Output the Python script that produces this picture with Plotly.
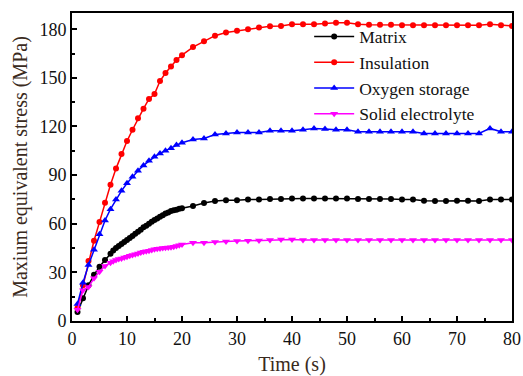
import plotly.graph_objects as go

# Sampling times (s)
t_main = [1, 2, 3, 4, 5, 6, 7, 8, 9, 10, 11, 12, 13, 14, 15, 16, 17, 18, 19, 20,
          22, 24, 26, 28, 30, 32, 34, 36, 38, 40, 42, 44, 46, 48, 50, 52, 54, 56, 58, 60,
          62, 64, 66, 68, 70, 72, 74, 76, 78, 80]
t_fine = [1, 2, 3, 4, 5, 6, 7, 7.5, 8, 8.5, 9, 9.5, 10, 10.5, 11, 11.5, 12, 12.5, 13, 13.5,
          14, 14.5, 15, 15.5, 16, 16.5, 17, 17.5, 18, 18.5, 19, 19.5, 20,
          22, 24, 26, 28, 30, 32, 34, 36, 38, 40, 42, 44, 46, 48, 50, 52, 54, 56, 58, 60,
          62, 64, 66, 68, 70, 72, 74, 76, 78, 80]

# Maximum equivalent stress (MPa)
matrix = [5.5, 14, 22, 28.5, 33.5, 37.6, 41.5, 43.5, 45, 46.2, 47.5, 48.8, 50, 51.2, 52.5, 53.8,
          55, 56.3, 57.8, 58.8, 60, 61.2, 62.3, 63.3, 64.3, 65.3, 66.3, 67, 67.8, 68.3, 68.6, 69.2, 69.6,
          71, 72.8, 74, 74.5, 74.5, 75, 75, 75.2, 75.3, 75.5, 75.5, 75.5, 75.5, 75.5, 75.5, 75.3, 75.3,
          75.2, 75.2, 75, 75, 74.2, 74, 74, 74.2, 74.2, 74, 75, 75, 75]
insulation = [8, 22, 37, 49.5, 61, 73, 84, 94, 103, 111, 118, 125, 131, 137, 140, 148, 153, 157, 161, 164,
              169, 172.5, 176, 178, 179, 180, 181, 181.8, 182, 183, 183, 183, 183.5, 184, 184, 183, 182.8,
              182.8, 182.8, 182.5, 182.5, 182.5, 182.5, 182.5, 182.5, 182.5, 182.5, 183, 182.5, 182]
oxygen = [10.5, 23.6, 34.5, 44, 53.5, 62, 69, 75, 80.3, 85, 89, 92.7, 96, 98.8, 101.3, 103.4, 105, 106.6,
          108.5, 110, 112, 112.6, 115, 115.7, 116.3, 116.3, 116.3, 117.3, 117.3, 117.3, 118, 118.8, 118.5,
          118, 118, 116.7, 116.7, 116.7, 116.7, 116.7, 116.7, 115.7, 115.7, 115.7, 115.7, 115.7, 115.7,
          118.8, 116.7, 116.7]
electrolyte = [7, 19, 21, 26.3, 30.4, 34, 36, 36.8, 37.6, 38.2, 38.6, 39.1, 39.6, 40.2, 40.7, 41.2, 41.7,
               42.2, 42.7, 43, 43.3, 43.8, 44.2, 44.5, 44.8, 45, 45.2, 45.3, 45.5, 45.8, 46.2, 46.8, 47.2,
               48.2, 48.3, 48.8, 49, 49.3, 49.5, 49.6, 50, 50.2, 50.2, 50, 50, 50, 50, 50, 50, 50, 50, 50,
               50, 50, 50, 50, 50, 50, 50, 50, 50, 50, 50]

x_ticks = [0, 10, 20, 30, 40, 50, 60, 70, 80]
y_ticks = [0, 30, 60, 90, 120, 150, 180]

serif = "Liberation Serif"

series = [
    ("Matrix", t_fine, matrix, "#000000", "circle", 6),
    ("Insulation", t_main, insulation, "#ff0000", "circle", 6),
    ("Oxygen storage", t_main, oxygen, "#0000ff", "triangle-up", 7),
    ("Solid electrolyte", t_fine, electrolyte, "#ff00ff", "triangle-down", 7),
]

fig = go.Figure()
for name, t, y, color, symbol, size in series:
    fig.add_trace(go.Scatter(
        x=t, y=y, name=name, mode="lines+markers",
        line=dict(color=color, width=1.5),
        marker=dict(color=color, symbol=symbol, size=size),
    ))

axis_common = dict(
    showline=True, linecolor="black", linewidth=2, mirror=True,
    ticks="inside", ticklen=5, tickwidth=1.5, tickcolor="black",
    showgrid=False, zeroline=False, automargin=False,
    tickfont=dict(family=serif, size=18, color="#111111"),
)

fig.update_xaxes(
    range=[0, 80], tickvals=x_ticks,
    minor=dict(ticks="inside", ticklen=3, dtick=5, tickcolor="black", tickwidth=1.5),
    title=dict(text="Time (s)", font=dict(family=serif, size=20, color="#3a2a20"), standoff=10),
    **axis_common,
)
fig.update_yaxes(
    range=[0, 190], tickvals=y_ticks,
    minor=dict(ticks="inside", ticklen=3, dtick=15, tickcolor="black", tickwidth=1.5),
    title=dict(text="Maxium equivalent stress (MPa)", font=dict(family=serif, size=20, color="#3a2a20"),
               standoff=6),
    **axis_common,
)

fig.update_layout(
    template="none",
    width=523, height=376,
    margin=dict(l=72, r=11, t=13, b=55, autoexpand=False),
    paper_bgcolor="white", plot_bgcolor="white",
    font=dict(family=serif),
    showlegend=True,
    legend=dict(
        x=0.539, y=0.982, xanchor="left", yanchor="top",
        bgcolor="rgba(0,0,0,0)", borderwidth=0,
        font=dict(family=serif, size=17.5, color="#111111"),
        itemwidth=40,
    ),
)

fig.write_html("out.html")
